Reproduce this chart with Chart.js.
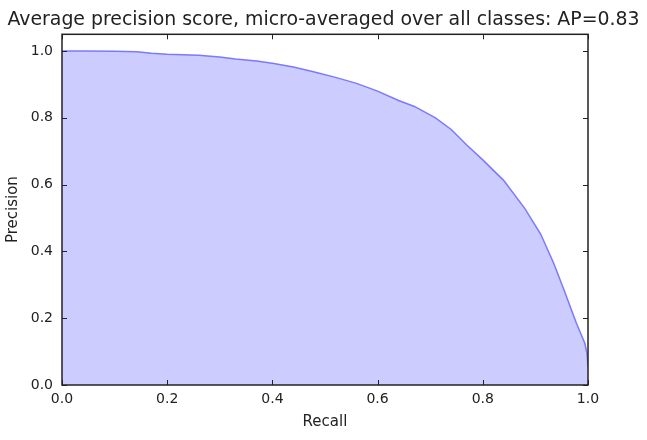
<!DOCTYPE html>
<html>
<head>
<meta charset="utf-8">
<script src="https://cdn.jsdelivr.net/npm/chart.js@4"></script>
<style>
  html, body { margin: 0; padding: 0; background: #fff; }
  #wrap { width: 647px; height: 440px; }
</style>
</head>
<body>
<div id="wrap"><canvas id="prChart"></canvas></div>
<script>
// precision / recall pairs
const recall = [0, 0.05, 0.10, 0.142, 0.17, 0.20, 0.26, 0.30, 0.33, 0.37, 0.40, 0.44, 0.48, 0.52,
    0.56, 0.60, 0.64, 0.67, 0.71, 0.74, 0.77, 0.80, 0.84, 0.88, 0.91, 0.935, 0.955, 0.978, 0.994, 0.998, 1.0];
const precision = [1.0, 1.0, 0.999, 0.998, 0.993, 0.99, 0.987, 0.982, 0.976, 0.970, 0.963, 0.952, 0.937, 0.921,
    0.903, 0.880, 0.852, 0.834, 0.800, 0.765, 0.718, 0.674, 0.612, 0.528, 0.452, 0.364, 0.282, 0.185, 0.125, 0.095, 0.055];
const xTicks = [0, 0.2, 0.4, 0.6, 0.8, 1.0];
const yTicks = [0, 0.2, 0.4, 0.6, 0.8, 1.0];
const titleText = 'Average precision score, micro-averaged over all classes: AP=0.83';

const fontFamily = "'DejaVu Sans', sans-serif";

// title centred on the whole canvas (the built-in one squeezes to the box width)
const canvasTitle = {
    id: 'canvasTitle',
    afterDraw(chart) {
        const ctx = chart.ctx;
        ctx.save();
        ctx.fillStyle = '#222';
        ctx.font = '18.9px ' + fontFamily;
        ctx.textAlign = 'center';
        ctx.textBaseline = 'middle';
        ctx.fillText(titleText, chart.width / 2, 20);
        ctx.restore();
    }
};

// matplotlib-style frame with ticks pointing inwards on all four sides
const frameTicks = {
    id: 'frameTicks',
    afterDatasetsDraw(chart) {
        const { ctx, chartArea: a, scales: { x, y } } = chart;
        const len = 5;
        ctx.save();
        ctx.strokeStyle = '#222';
        ctx.lineWidth = 1;
        xTicks.forEach(v => {
            const px = Math.round(x.getPixelForValue(v)) + 0.5;
            ctx.beginPath();
            ctx.moveTo(px, a.bottom); ctx.lineTo(px, a.bottom - len);
            ctx.moveTo(px, a.top); ctx.lineTo(px, a.top + len);
            ctx.stroke();
        });
        yTicks.forEach(v => {
            const py = Math.round(y.getPixelForValue(v)) + 0.5;
            ctx.beginPath();
            ctx.moveTo(a.left, py); ctx.lineTo(a.left + len, py);
            ctx.moveTo(a.right, py); ctx.lineTo(a.right - len, py);
            ctx.stroke();
        });
        ctx.lineWidth = 1.5;
        ctx.strokeRect(a.left, a.top, a.right - a.left, a.bottom - a.top);
        ctx.restore();
    }
};

const points = recall.map((r, i) => ({ x: r, y: precision[i] }));

new Chart(document.getElementById('prChart').getContext('2d'), {
    type: 'line',
    data: {
        datasets: [{
            data: points,
            borderColor: 'rgba(110, 110, 255, 0.9)',
            borderWidth: 1.5,
            backgroundColor: 'rgba(0, 0, 255, 0.2)',
            fill: 'origin',
            pointRadius: 0,
            tension: 0
        }]
    },
    options: {
        responsive: true,
        maintainAspectRatio: false,
        animation: false,
        layout: { padding: { top: 34.3, right: 59, bottom: 0, left: 0 } },
        plugins: {
            legend: { display: false },
            tooltip: { enabled: false },
            title: { display: false }
        },
        scales: {
            x: {
                type: 'linear',
                min: 0,
                max: 1,
                afterBuildTicks: s => { s.ticks = xTicks.map(v => ({ value: v })); },
                afterFit: s => { s.height = 55; },
                grid: { display: false, drawTicks: false },
                border: { display: false },
                ticks: {
                    padding: 5.6,
                    maxRotation: 0,
                    color: '#222',
                    font: { family: fontFamily, size: 14 },
                    callback: v => v.toFixed(1)
                },
                title: {
                    display: true,
                    text: 'Recall',
                    color: '#222',
                    font: { family: fontFamily, size: 15 },
                    padding: { top: 9, bottom: 9 }
                }
            },
            y: {
                min: 0,
                max: 1.05,
                afterBuildTicks: s => { s.ticks = yTicks.map(v => ({ value: v })); },
                afterFit: s => { s.width = 62; },
                grid: { display: false, drawTicks: false },
                border: { display: false },
                ticks: {
                    padding: 9,
                    color: '#222',
                    font: { family: fontFamily, size: 14 },
                    callback: v => v.toFixed(1)
                },
                title: {
                    display: true,
                    text: 'Precision',
                    color: '#222',
                    font: { family: fontFamily, size: 15 },
                    padding: { top: 4, bottom: 4 }
                }
            }
        }
    },
    plugins: [frameTicks, canvasTitle]
});
</script>
</body>
</html>
